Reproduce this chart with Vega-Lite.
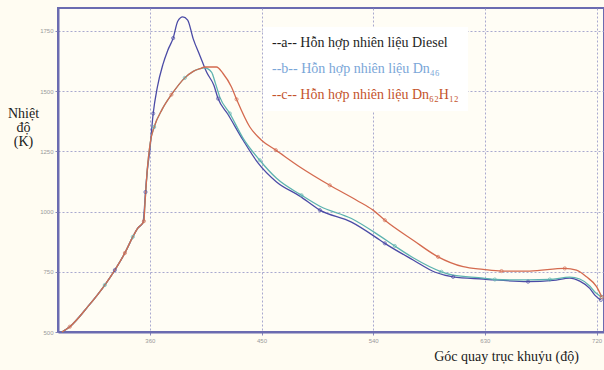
{
  "$schema": "https://vega.github.io/schema/vega-lite/v6.json",
  "width": 546,
  "height": 324,
  "autosize": "none",
  "padding": {"left": 58, "top": 8, "right": 0, "bottom": 38},
  "background": "#fffcf2",
  "config": {
    "view": {"stroke": "#6b6bb0", "strokeWidth": 2, "fill": "#fffdf5"},
    "axis": {
      "labelFontSize": 6,
      "labelColor": "#9a9a9a",
      "tickColor": "#8888bb",
      "tickSize": 3,
      "domainColor": "#6b6bb0",
      "domainWidth": 2,
      "gridColor": "#9a9ac8",
      "gridOpacity": 0.85,
      "gridDash": [2, 2],
      "gridWidth": 1,
      "titleFont": "Liberation Serif",
      "titleFontSize": 14,
      "titleFontWeight": "normal",
      "titleColor": "#1a1a1a"
    }
  },
  "datasets": {
    "curves": [
      {"s": "a", "x": 289.1, "t": 500}, {"s": "a", "x": 295.5, "t": 522}, {"s": "a", "x": 310, "t": 605}, {"s": "a", "x": 323.7, "t": 695}, {"s": "a", "x": 331.8, "t": 757}, {"s": "a", "x": 339.9, "t": 828}, {"s": "a", "x": 346.3, "t": 895}, {"s": "a", "x": 350.3, "t": 931}, {"s": "a", "x": 354.5, "t": 955}, {"s": "a", "x": 355.3, "t": 990}, {"s": "a", "x": 356.5, "t": 1081}, {"s": "a", "x": 358, "t": 1172}, {"s": "a", "x": 360, "t": 1255}, {"s": "a", "x": 362.7, "t": 1407}, {"s": "a", "x": 366, "t": 1515}, {"s": "a", "x": 370.5, "t": 1610}, {"s": "a", "x": 374.5, "t": 1670}, {"s": "a", "x": 378.8, "t": 1720}, {"s": "a", "x": 382.5, "t": 1790}, {"s": "a", "x": 386.5, "t": 1808}, {"s": "a", "x": 390.5, "t": 1795}, {"s": "a", "x": 394.9, "t": 1718}, {"s": "a", "x": 400.3, "t": 1648}, {"s": "a", "x": 405.7, "t": 1579}, {"s": "a", "x": 411.6, "t": 1524}, {"s": "a", "x": 415, "t": 1469}, {"s": "a", "x": 422.9, "t": 1404}, {"s": "a", "x": 435.2, "t": 1296}, {"s": "a", "x": 447.3, "t": 1201}, {"s": "a", "x": 462.1, "t": 1123}, {"s": "a", "x": 480.9, "t": 1064}, {"s": "a", "x": 497, "t": 1006}, {"s": "a", "x": 522.5, "t": 956}, {"s": "a", "x": 545.3, "t": 882}, {"s": "a", "x": 549.4, "t": 868}, {"s": "a", "x": 572.2, "t": 799}, {"s": "a", "x": 590, "t": 748}, {"s": "a", "x": 604.4, "t": 729}, {"s": "a", "x": 628.6, "t": 720}, {"s": "a", "x": 664.8, "t": 709}, {"s": "a", "x": 685, "t": 714}, {"s": "a", "x": 698.4, "t": 724}, {"s": "a", "x": 706.5, "t": 711}, {"s": "a", "x": 714.5, "t": 681}, {"s": "a", "x": 718.6, "t": 653}, {"s": "a", "x": 723.4, "t": 633},

      {"s": "b", "x": 289.1, "t": 500}, {"s": "b", "x": 295.5, "t": 522}, {"s": "b", "x": 310, "t": 605}, {"s": "b", "x": 323.7, "t": 695}, {"s": "b", "x": 331.8, "t": 757}, {"s": "b", "x": 339.9, "t": 828}, {"s": "b", "x": 346.3, "t": 895}, {"s": "b", "x": 350.3, "t": 931}, {"s": "b", "x": 355.2, "t": 960}, {"s": "b", "x": 356, "t": 1027}, {"s": "b", "x": 357.6, "t": 1151}, {"s": "b", "x": 360.5, "t": 1290}, {"s": "b", "x": 363.5, "t": 1351}, {"s": "b", "x": 370, "t": 1425}, {"s": "b", "x": 377.4, "t": 1485}, {"s": "b", "x": 388.2, "t": 1555}, {"s": "b", "x": 395, "t": 1582}, {"s": "b", "x": 400.3, "t": 1593}, {"s": "b", "x": 404, "t": 1597}, {"s": "b", "x": 409.7, "t": 1579}, {"s": "b", "x": 413, "t": 1530}, {"s": "b", "x": 416.4, "t": 1475}, {"s": "b", "x": 424.5, "t": 1407}, {"s": "b", "x": 435.2, "t": 1304}, {"s": "b", "x": 448.6, "t": 1213}, {"s": "b", "x": 462.1, "t": 1138}, {"s": "b", "x": 482.2, "t": 1068}, {"s": "b", "x": 497, "t": 1022}, {"s": "b", "x": 522.5, "t": 971}, {"s": "b", "x": 545.3, "t": 899}, {"s": "b", "x": 557.4, "t": 857}, {"s": "b", "x": 572.2, "t": 808}, {"s": "b", "x": 595, "t": 750}, {"s": "b", "x": 604.4, "t": 736}, {"s": "b", "x": 628.6, "t": 724}, {"s": "b", "x": 638, "t": 718}, {"s": "b", "x": 664.8, "t": 716}, {"s": "b", "x": 682.3, "t": 718}, {"s": "b", "x": 698.4, "t": 728}, {"s": "b", "x": 706.5, "t": 720}, {"s": "b", "x": 714.5, "t": 691}, {"s": "b", "x": 718.6, "t": 666}, {"s": "b", "x": 724, "t": 646},

      {"s": "c", "x": 289.1, "t": 500}, {"s": "c", "x": 295.5, "t": 522}, {"s": "c", "x": 310, "t": 605}, {"s": "c", "x": 323.7, "t": 695}, {"s": "c", "x": 331.8, "t": 757}, {"s": "c", "x": 339.9, "t": 828}, {"s": "c", "x": 346.3, "t": 895}, {"s": "c", "x": 350.3, "t": 931}, {"s": "c", "x": 355.2, "t": 960}, {"s": "c", "x": 356, "t": 1027}, {"s": "c", "x": 357.6, "t": 1151}, {"s": "c", "x": 360.5, "t": 1290}, {"s": "c", "x": 363.5, "t": 1351}, {"s": "c", "x": 370, "t": 1425}, {"s": "c", "x": 377.4, "t": 1485}, {"s": "c", "x": 388.2, "t": 1555}, {"s": "c", "x": 395, "t": 1582}, {"s": "c", "x": 400.3, "t": 1593}, {"s": "c", "x": 404.3, "t": 1600}, {"s": "c", "x": 413.7, "t": 1600}, {"s": "c", "x": 419, "t": 1573}, {"s": "c", "x": 425.8, "t": 1517}, {"s": "c", "x": 429.9, "t": 1466}, {"s": "c", "x": 440.6, "t": 1351}, {"s": "c", "x": 450, "t": 1296}, {"s": "c", "x": 461.5, "t": 1255}, {"s": "c", "x": 480.9, "t": 1185}, {"s": "c", "x": 505, "t": 1109}, {"s": "c", "x": 526.6, "t": 1047}, {"s": "c", "x": 539.9, "t": 1006}, {"s": "c", "x": 549.4, "t": 964}, {"s": "c", "x": 572.2, "t": 881}, {"s": "c", "x": 592.3, "t": 812}, {"s": "c", "x": 612.5, "t": 771}, {"s": "c", "x": 628.6, "t": 760}, {"s": "c", "x": 643.4, "t": 753}, {"s": "c", "x": 666.2, "t": 753}, {"s": "c", "x": 694.4, "t": 764}, {"s": "c", "x": 703.8, "t": 757}, {"s": "c", "x": 711.9, "t": 729}, {"s": "c", "x": 720, "t": 688}, {"s": "c", "x": 724.2, "t": 645}
    ],
    "markers": [
      {"s": "a", "x": 331.8, "t": 757}, {"s": "a", "x": 356.5, "t": 1081}, {"s": "a", "x": 362.7, "t": 1407}, {"s": "a", "x": 378.8, "t": 1720}, {"s": "a", "x": 415, "t": 1469}, {"s": "a", "x": 497, "t": 1006}, {"s": "a", "x": 549.4, "t": 868}, {"s": "a", "x": 604.4, "t": 729}, {"s": "a", "x": 664.8, "t": 709}, {"s": "a", "x": 723.4, "t": 633},
      {"s": "b", "x": 323.7, "t": 695}, {"s": "b", "x": 346.3, "t": 895}, {"s": "b", "x": 363.5, "t": 1351}, {"s": "b", "x": 388.2, "t": 1555}, {"s": "b", "x": 424.5, "t": 1407}, {"s": "b", "x": 448.6, "t": 1213}, {"s": "b", "x": 482.2, "t": 1068}, {"s": "b", "x": 557.4, "t": 857}, {"s": "b", "x": 595, "t": 750}, {"s": "b", "x": 638, "t": 718}, {"s": "b", "x": 682.3, "t": 718}, {"s": "b", "x": 724, "t": 646},
      {"s": "c", "x": 295.5, "t": 522}, {"s": "c", "x": 339.9, "t": 828}, {"s": "c", "x": 355.2, "t": 960}, {"s": "c", "x": 377.4, "t": 1485}, {"s": "c", "x": 429.9, "t": 1466}, {"s": "c", "x": 461.5, "t": 1255}, {"s": "c", "x": 505, "t": 1109}, {"s": "c", "x": 549.4, "t": 964}, {"s": "c", "x": 592.3, "t": 812}, {"s": "c", "x": 643.4, "t": 753}, {"s": "c", "x": 694.4, "t": 764}, {"s": "c", "x": 724.2, "t": 645}
    ]
  },
  "encoding": {
    "x": {
      "field": "x", "type": "quantitative",
      "scale": {"domain": [286, 726], "nice": false, "zero": false},
      "axis": {
        "values": [360, 450, 540, 630, 720],
        "format": "d",
        "title": "Góc quay trục khuỷu (độ)",
        "titleX": 448, "titleY": 24, "titleAlign": "center", "titleBaseline": "middle",
        "labelPadding": 2
      }
    },
    "y": {
      "field": "t", "type": "quantitative",
      "scale": {"domain": [500, 1845], "nice": false, "zero": false},
      "axis": {
        "values": [500, 750, 1000, 1250, 1500, 1750],
        "format": "d",
        "title": ["Nhiệt", "độ", "(K)"],
        "titleAngle": 0, "titleX": -35, "titleY": 98,
        "titleAlign": "center", "titleBaseline": "top", "titleLineHeight": 14,
        "labelPadding": 2
      }
    },
    "color": {
      "field": "s", "type": "nominal",
      "scale": {"domain": ["a", "b", "c"], "range": ["#4b4ba6", "#5eb3b0", "#d46a4f"]},
      "legend": {
        "title": null,
        "orient": "none",
        "legendX": 205,
        "legendY": 19,
        "fillColor": "#ffffff",
        "padding": 9,
        "symbolSize": 0,
        "symbolStrokeWidth": 0,
        "symbolOpacity": 0,
        "labelOffset": -14,
        "labelFont": "Liberation Serif",
        "labelFontSize": 14,
        "labelLimit": 400,
        "rowPadding": 12,
        "labelExpr": "datum.value == 'a' ? '--a-- Hỗn hợp nhiên liệu Diesel' : datum.value == 'b' ? '--b-- Hỗn hợp nhiên liệu Dn₄₆' : '--c-- Hỗn hợp nhiên liệu Dn₆₂H₁₂'",
        "encode": {
          "labels": {
            "update": {
              "fill": {"signal": "datum.index === 0 ? '#1e1e1e' : datum.index === 1 ? '#7aa6d8' : '#c4532b'"}
            }
          }
        }
      }
    }
  },
  "layer": [
    {
      "data": {"name": "curves"},
      "mark": {"type": "line", "strokeWidth": 1.3, "interpolate": "monotone"}
    },
    {
      "data": {"name": "markers"},
      "mark": {"type": "point", "size": 10, "filled": false, "strokeWidth": 1}
    }
  ]
}
